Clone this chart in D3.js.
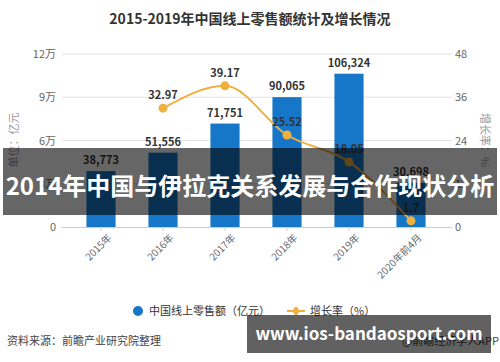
<html lang="zh">
<head>
<meta charset="utf-8">
<script src="https://d3js.org/d3.v7.min.js"></script>
<style>
  body { margin: 0; background: #fff; }
  text { font-family: "Noto Sans CJK SC", "Noto Sans", sans-serif; }
</style>
</head>
<body>
<div id="chart"></div>
<script>
const categories = ["2015年", "2016年", "2017年", "2018年", "2019年", "2020年前4月"];
const sales = [38773, 51556, 71751, 90065, 106324, 30698];
const growth = [null, 32.97, 39.17, 25.52, 18.05, 1.7];
const leftTicks = [0, 30000, 60000, 90000, 120000];
const leftTickLabels = ["0", "3万", "6万", "9万", "12万"];
const rightTicks = [0, 12, 24, 36, 48];

const W = 500, H = 362;
const plotTop = 54, plotBottom = 227, plotLeft = 62, plotRight = 452;

const svg = d3.select("#chart").append("svg")
  .attr("width", W).attr("height", H);

// title
svg.append("text")
  .attr("x", 250).attr("y", 24)
  .attr("text-anchor", "middle")
  .attr("font-size", 14).attr("font-weight", "bold").attr("fill", "#333")
  .text("2015-2019年中国线上零售额统计及增长情况");

const x = d3.scaleBand().domain(categories).range([70, 442])
  .paddingInner(0.53).paddingOuter(0.265);
const y = d3.scaleLinear().domain([0, 120000]).range([plotBottom, plotTop]);
const y2 = d3.scaleLinear().domain([0, 48]).range([plotBottom, plotTop]);

// gridlines
svg.append("g").selectAll("line").data(leftTicks.slice(1)).join("line")
  .attr("x1", plotLeft).attr("x2", plotRight)
  .attr("y1", d => y(d)).attr("y2", d => y(d))
  .attr("stroke", "#e3e3e3");

// left axis
const yAxis = svg.append("g").attr("transform", `translate(${plotLeft - 6},0)`)
  .call(d3.axisLeft(y).tickValues(leftTicks)
    .tickFormat((d, i) => leftTickLabels[i]).tickSize(0).tickPadding(0));
yAxis.select(".domain").remove();
yAxis.selectAll("text").attr("font-size", 11).attr("fill", "#666")
  .attr("font-family", "'Noto Sans CJK SC', sans-serif");

// right axis
const yAxis2 = svg.append("g").attr("transform", `translate(${plotRight + 3},0)`)
  .call(d3.axisRight(y2).tickValues(rightTicks).tickSize(0).tickPadding(0));
yAxis2.select(".domain").remove();
yAxis2.selectAll("text").attr("font-size", 11).attr("fill", "#666")
  .attr("font-family", "'Noto Sans CJK SC', sans-serif");

// axis titles
svg.append("text")
  .attr("transform", "translate(18,140) rotate(-90)")
  .attr("text-anchor", "middle").attr("font-size", 11).attr("fill", "#999")
  .text("单位：亿元");
svg.append("text")
  .attr("transform", "translate(481,140) rotate(90)")
  .attr("text-anchor", "middle").attr("font-size", 11).attr("fill", "#999")
  .text("增长率：%");

// bars
svg.append("g").selectAll("rect").data(sales).join("rect")
  .attr("x", (d, i) => x(categories[i]))
  .attr("y", d => y(d))
  .attr("width", x.bandwidth())
  .attr("height", d => plotBottom - y(d))
  .attr("fill", "#1677c8");

// bar labels
svg.append("g").selectAll("text").data(sales).join("text")
  .attr("x", (d, i) => x(categories[i]) + x.bandwidth() / 2)
  .attr("y", d => y(d) - 7)
  .attr("text-anchor", "middle").attr("font-size", 11).attr("font-weight", "bold")
  .attr("fill", "#333")
  .text(d => d3.format(",")(d));

// bottom axis
const xAxis = svg.append("g").attr("transform", `translate(0,${plotBottom})`)
  .call(d3.axisBottom(x).tickSize(4).tickSizeOuter(0));
xAxis.select(".domain").attr("d", `M${plotLeft},0.5H${plotRight}`).attr("stroke", "#ccc");
xAxis.selectAll(".tick line").attr("stroke", "#ccc");
xAxis.selectAll("text")
  .attr("font-size", 10).attr("fill", "#666")
  .attr("font-family", "'Noto Sans CJK SC', sans-serif")
  .attr("text-anchor", "end")
  .attr("transform", "translate(4,4) rotate(-45)")
  .attr("dy", "0.35em");

// growth line
const pts = growth.map((g, i) => ({ c: categories[i], g })).filter(d => d.g !== null);
const line = d3.line()
  .x(d => x(d.c) + x.bandwidth() / 2)
  .y(d => y2(d.g))
  .curve(d3.curveMonotoneX);
svg.append("path").datum(pts)
  .attr("d", line).attr("fill", "none")
  .attr("stroke", "#eeb13f").attr("stroke-width", 2);
svg.append("g").selectAll("circle").data(pts).join("circle")
  .attr("cx", d => x(d.c) + x.bandwidth() / 2)
  .attr("cy", d => y2(d.g))
  .attr("r", 4.5).attr("fill", "#eeb13f");
svg.append("g").selectAll("text").data(pts).join("text")
  .attr("x", d => x(d.c) + x.bandwidth() / 2)
  .attr("y", d => y2(d.g) - 9)
  .attr("text-anchor", "middle").attr("font-size", 11).attr("font-weight", "bold")
  .attr("fill", "#333")
  .text(d => d.g);

// legend
const lg = svg.append("g");
lg.append("circle").attr("cx", 138).attr("cy", 311).attr("r", 5).attr("fill", "#1677c8");
lg.append("text").attr("x", 149).attr("y", 315).attr("font-size", 11).attr("fill", "#333")
  .text("中国线上零售额（亿元）");
lg.append("line").attr("x1", 287).attr("x2", 305).attr("y1", 311).attr("y2", 311)
  .attr("stroke", "#eeb13f").attr("stroke-width", 2);
lg.append("path").attr("d", "M296,306L300,311L296,316L292,311Z").attr("fill", "#eeb13f");
lg.append("text").attr("x", 310).attr("y", 315).attr("font-size", 11).attr("fill", "#333")
  .text("增长率（%）");

// source
svg.append("text").attr("x", 7).attr("y", 345).attr("font-size", 11).attr("fill", "#444")
  .text("资料来源：前瞻产业研究院整理");
svg.append("text").attr("x", 499).attr("y", 345).attr("text-anchor", "end")
  .attr("font-size", 11).attr("fill", "#444")
  .text("@前瞻经济学人APP");

// overlay band
svg.append("rect").attr("x", 3).attr("y", 148).attr("width", 494).attr("height", 67)
  .attr("fill", "#000").attr("fill-opacity", 0.6);
svg.append("text").attr("x", 250).attr("y", 195)
  .attr("text-anchor", "middle").attr("font-size", 24).attr("font-weight", "bold")
  .attr("fill", "#fff")
  .text("2014年中国与伊拉克关系发展与合作现状分析");

// bottom-right box
svg.append("rect").attr("x", 247).attr("y", 315).attr("width", 244).attr("height", 38)
  .attr("fill", "#000").attr("fill-opacity", 0.62);
svg.append("text").attr("x", 369).attr("y", 340)
  .attr("text-anchor", "middle").attr("font-size", 17).attr("font-weight", "bold")
  .attr("fill", "#fff")
  .text("www.ios-bandaosport.com");
</script>
</body>
</html>
